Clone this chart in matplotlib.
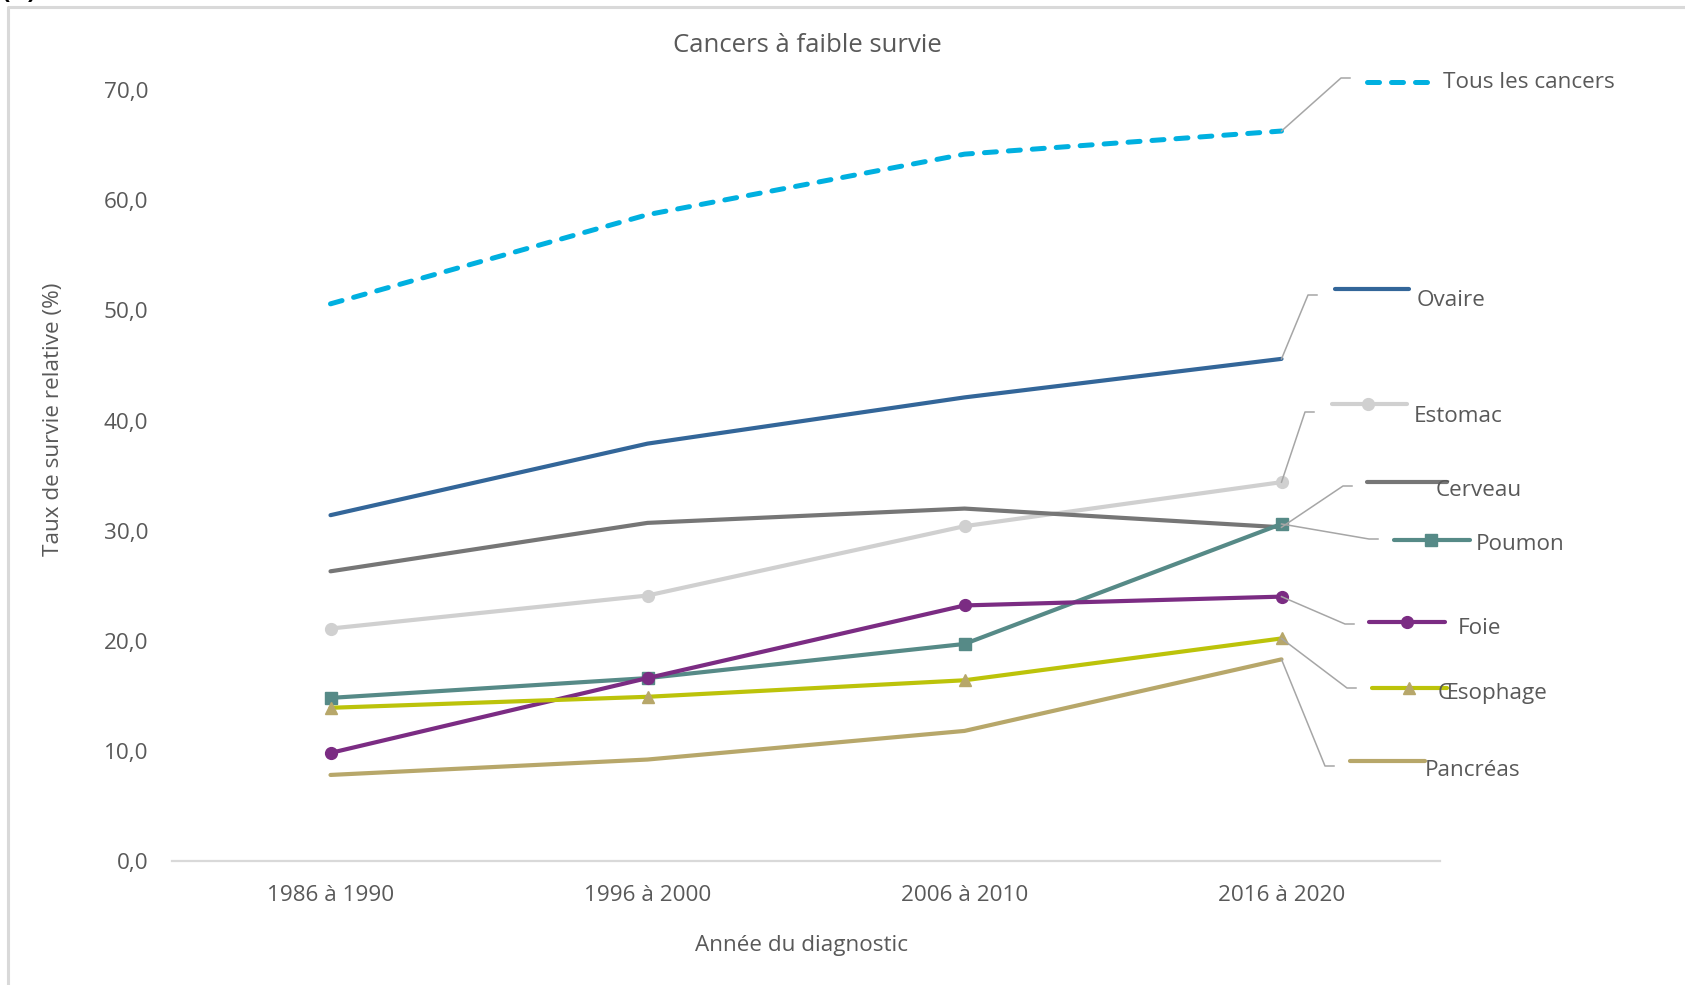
import matplotlib
matplotlib.use("Agg")
import matplotlib.pyplot as plt
from matplotlib.lines import Line2D

# Relative survival (%) by period of diagnosis
periods = ["1986 à 1990", "1996 à 2000", "2006 à 2010", "2016 à 2020"]
series_names = ["Tous les cancers", "Ovaire", "Estomac", "Cerveau",
                "Poumon", "Foie", "Œsophage", "Pancréas"]
tous = [50.6, 58.7, 64.2, 66.3]
ovaire = [31.4, 37.9, 42.1, 45.6]
estomac = [21.1, 24.1, 30.4, 34.4]
cerveau = [26.3, 30.7, 32.0, 30.3]
poumon = [14.8, 16.6, 19.7, 30.6]
foie = [9.8, 16.6, 23.2, 24.0]
oesophage = [13.9, 14.9, 16.4, 20.2]
pancreas = [7.8, 9.2, 11.8, 18.3]
yticks = [0, 10, 20, 30, 40, 50, 60, 70]

W, H = 1685, 985
TXT = "#595959"
FS = 16.2
FONT = ["Open Sans", "DejaVu Sans"]
plt.rcParams["font.family"] = FONT

fig = plt.figure(figsize=(W / 100, H / 100), dpi=100)


def fp(x, y):
    """Figure pixel (from top-left) -> figure fraction."""
    return x / W, 1 - y / H


# outer frame (only top and left edges fall inside the canvas)
fig.add_artist(Line2D([8 / W, 8 / W, 1.0], [0.0, 1 - 7 / H, 1 - 7 / H],
                      transform=fig.transFigure, color="#D9D9D9", lw=2.2))
# panel tag, mostly cut off at the top edge
fig.text(2 / W, 1 + 2 / H, "(B)", fontsize=18, fontweight="bold",
         color="black", va="baseline", ha="left")

x0, x1 = 172, 1440
y_top, y_bot = 90.3, 860.8
ax = fig.add_axes([x0 / W, 1 - y_bot / H, (x1 - x0) / W, (y_bot - y_top) / H])
ax.set_xlim(-0.5, 3.5)
ax.set_ylim(0, 70)
for s in ["top", "right", "left"]:
    ax.spines[s].set_visible(False)
ax.spines["bottom"].set_color("#D9D9D9")
ax.spines["bottom"].set_linewidth(1.6)
ax.set_xticks(range(len(periods)))
ax.set_xticklabels(periods)
ax.set_yticks(yticks)
ax.set_yticklabels([f"{v:.1f}".replace(".", ",") for v in yticks])
ax.tick_params(axis="both", length=0, labelsize=FS, labelcolor=TXT)
ax.tick_params(axis="x", pad=17.5)
ax.tick_params(axis="y", pad=17)

xs = list(range(len(periods)))
styles = [
    dict(values=tous, color="#00B0E0", lw=3.6, dashes=(2.4, 2.4)),
    dict(values=ovaire, color="#336699", lw=3.0),
    dict(values=estomac, color="#D0D0D0", lw=3.0, marker="o", mfc="#D0D0D0"),
    dict(values=cerveau, color="#767676", lw=3.0),
    dict(values=poumon, color="#568A87", lw=3.0, marker="s", mfc="#568A87"),
    dict(values=foie, color="#7B2C83", lw=3.0, marker="o", mfc="#7B2C83"),
    dict(values=oesophage, color="#BCC30A", lw=3.0, marker="^", mfc="#B7A76A"),
    dict(values=pancreas, color="#B7A76A", lw=3.0),
]

for st in styles:
    kw = dict(color=st["color"], lw=st["lw"], solid_capstyle="round",
              dash_capstyle="round", clip_on=False)
    if "dashes" in st:
        kw["dashes"] = st["dashes"]
    if "marker" in st:
        kw.update(marker=st["marker"], markersize=8.5, mfc=st["mfc"],
                  mec=st["mfc"])
    ax.plot(xs, st["values"], **kw)

# Callout legend: elbow point, sample line (x0, x1, y), marker x, label (x, y)
callouts = [
    ((1341, 78), (1367, 1432, 82), None, (1443, 83)),
    ((1308, 295), (1335, 1409, 289), None, (1417, 300)),
    ((1305, 412), (1332, 1407, 404), 1368, (1414, 416)),
    ((1343, 486), (1367, 1447, 482), None, (1436, 491)),
    ((1369, 539), (1394, 1470, 540), 1431, (1476, 544)),
    ((1345, 624), (1369, 1445, 622), 1407, (1458, 628)),
    ((1347, 688), (1372, 1447, 688), 1409, (1438, 693)),
    ((1325, 766), (1350, 1425, 761), None, (1425, 770)),
]

fig.canvas.draw()
inv = fig.transFigure.inverted()
for name, st, (elbow, sample, mx, lab) in zip(series_names, styles, callouts):
    start = inv.transform(ax.transData.transform((xs[-1], st["values"][-1])))
    e = fp(*elbow)
    e2 = fp(elbow[0] + 9, elbow[1])
    fig.add_artist(Line2D([start[0], e[0], e2[0]], [start[1], e[1], e2[1]],
                          transform=fig.transFigure, color="#A6A6A6", lw=1.1,
                          zorder=1))
    a = fp(sample[0], sample[2])
    b = fp(sample[1], sample[2])
    kw = dict(color=st["color"], lw=st["lw"], solid_capstyle="round",
              dash_capstyle="round", zorder=2)
    if "dashes" in st:
        kw["dashes"] = st["dashes"]
    fig.add_artist(Line2D([a[0], b[0]], [a[1], b[1]],
                          transform=fig.transFigure, **kw))
    if mx is not None:
        m = fp(mx, sample[2])
        fig.add_artist(Line2D([m[0]], [m[1]], transform=fig.transFigure,
                              marker=st["marker"], markersize=8.5,
                              mfc=st["mfc"], mec=st["mfc"], lw=0, zorder=3))
    tx, ty = fp(*lab)
    fig.text(tx, ty, name, fontsize=FS, color=TXT, ha="left", va="center",
             zorder=5)

# titles
tx, ty = fp(807, 46)
fig.text(tx, ty, "Cancers à faible survie", fontsize=18.5, color=TXT,
         ha="center", va="center")
tx, ty = fp(801, 946)
fig.text(tx, ty, "Année du diagnostic", fontsize=FS, color=TXT,
         ha="center", va="center")
tx, ty = fp(54, 419)
fig.text(tx, ty, "Taux de survie relative (%)", fontsize=FS, color=TXT,
         ha="center", va="center", rotation=90)

fig.savefig("out.png", dpi=100)
